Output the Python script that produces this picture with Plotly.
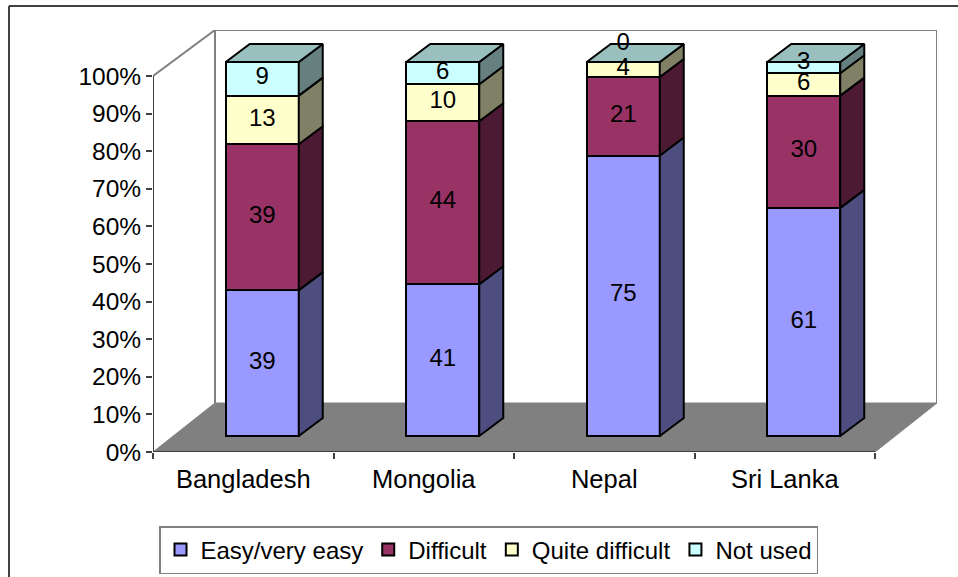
import numpy as np
import plotly.graph_objects as go

countries = ["Bangladesh", "Mongolia", "Nepal", "Sri Lanka"]
series_names = ["Easy/very easy", "Difficult", "Quite difficult", "Not used"]
easy = [39, 41, 75, 61]
difficult = [39, 44, 21, 30]
quite_difficult = [13, 10, 4, 6]
not_used = [9, 6, 0, 3]
percent_ticks = [0, 10, 20, 30, 40, 50, 60, 70, 80, 90, 100]

# styles
front_colors = ["#9999FF", "#993366", "#FFFFCC", "#CCFFFF"]
side_colors = ["#4D4D80", "#4D1A33", "#808066", "#668080"]
top_color = "#99BFBF"
FONT = "Liberation Sans, Arial, sans-serif"
FS = 24

# pixel geometry of the frame
L, R, T, B = 153, 937, 30, 452
cat_px = 180.5
y_px = 3.76
bar_y_px = 3.74
shift_x_px, bar_base_px = 19, 16
floor_dx = 62 / cat_px
floor_dy = 49 / y_px
depth_dx = 24 / cat_px
depth_dy = 18 / bar_y_px
bar_w = 73 / cat_px

x_lo = -0.5
x_hi = x_lo + (R - L) / cat_px
y_hi = (B - T) / y_px
shift = shift_x_px / cat_px

vals = np.array([easy, difficult, quite_difficult, not_used], dtype=float)
norm = vals / vals.sum(axis=0) * 100
tops = norm.cumsum(axis=0)
bots = tops - norm

fig = go.Figure()

# floor and walls
fig.add_trace(go.Scatter(
    x=[x_lo, x_lo + floor_dx, x_hi, 3.5, x_lo], y=[0, floor_dy, floor_dy, 0, 0],
    mode="lines", fill="toself", fillcolor="#808080", line=dict(color="#808080", width=1),
    hoverinfo="skip", showlegend=False))
fig.add_trace(go.Scatter(
    x=[x_lo, x_lo + floor_dx, x_lo + floor_dx, None, x_lo + floor_dx, x_hi, x_hi],
    y=[100, y_hi, floor_dy, None, y_hi, y_hi, floor_dy],
    mode="lines", line=dict(color="#808080", width=2), hoverinfo="skip", showlegend=False,
    cliponaxis=False))
fig.add_trace(go.Scatter(
    x=[x_lo, x_lo, None, x_lo, 3.5], y=[100, 0, None, 0, 0],
    mode="lines", line=dict(color="#404040", width=2), hoverinfo="skip", showlegend=False,
    cliponaxis=False))

# front faces
for i, name in enumerate(series_names):
    fig.add_trace(go.Bar(
        name=name, x=list(range(len(countries))), y=vals[i], xaxis="x2", yaxis="y2",
        width=bar_w, marker=dict(color=front_colors[i], line=dict(color="black", width=2)),
        hoverinfo="skip"))

# side faces and tops, from the same stacked values
for i in range(len(series_names)):
    for j in range(len(countries)):
        xr = j + bar_w / 2
        fig.add_trace(go.Scatter(
            x=[xr, xr + depth_dx, xr + depth_dx, xr, xr],
            y=[bots[i, j], bots[i, j] + depth_dy, tops[i, j] + depth_dy, tops[i, j], bots[i, j]],
            xaxis="x2", yaxis="y2", mode="lines", fill="toself", fillcolor=side_colors[i],
            line=dict(color="black", width=2), hoverinfo="skip", showlegend=False))
for j in range(len(countries)):
    xl, xr = j - bar_w / 2, j + bar_w / 2
    t = tops[-1, j]
    fig.add_trace(go.Scatter(
        x=[xl, xr, xr + depth_dx, xl + depth_dx, xl],
        y=[t, t, t + depth_dy, t + depth_dy, t],
        xaxis="x2", yaxis="y2", mode="lines", fill="toself", fillcolor=top_color,
        line=dict(color="black", width=2), hoverinfo="skip", showlegend=False))

# data labels, centred on each segment; the two crowded labels are lifted as in the source
label_lift = np.full(vals.shape, 0.1)
label_lift[3, 2] = 4.8
label_lift[3, 3] = 1.3
for i in range(len(series_names)):
    fig.add_trace(go.Scatter(
        x=list(range(len(countries))), y=(bots[i] + tops[i]) / 2 + label_lift[i],
        text=[str(int(v)) for v in vals[i]], xaxis="x2", yaxis="y2", mode="text",
        textposition="middle center", textfont=dict(family=FONT, size=FS, color="black"),
        hoverinfo="skip", showlegend=False, cliponaxis=False))

# outer frame
fig.add_shape(type="line", xref="paper", yref="paper", x0=(9 - L) / (R - L), x1=(958 - L) / (R - L),
              y0=(B - 6) / (B - T), y1=(B - 6) / (B - T), line=dict(color="#404040", width=2))
fig.add_shape(type="line", xref="paper", yref="paper", x0=(9 - L) / (R - L), x1=(9 - L) / (R - L),
              y0=(B - 6) / (B - T), y1=(B - 577) / (B - T), line=dict(color="#404040", width=2))

fig.update_layout(
    width=958, height=577, autosize=False,
    margin=dict(l=L, r=958 - R, t=T, b=577 - B, pad=0, autoexpand=False),
    paper_bgcolor="white", plot_bgcolor="white",
    barmode="stack", barnorm="percent",
    font=dict(family=FONT, size=FS, color="black"),
    xaxis=dict(range=[x_lo, x_hi], tickmode="array", tickvals=list(range(len(countries))),
               ticktext=countries, ticks="", showgrid=False, zeroline=False, showline=False,
               ticklabelstandoff=9, tickfont=dict(family=FONT, size=25.5),
               minor=dict(tickmode="array", tickvals=[k - 0.5 for k in range(5)], ticks="outside",
                          ticklen=6, tickwidth=1.5, tickcolor="#404040", showgrid=False)),
    yaxis=dict(range=[0, y_hi], tickmode="array", tickvals=percent_ticks,
               ticktext=[f"{v}%" for v in percent_ticks], ticks="outside", ticklen=6, tickwidth=1.5,
               tickfont=dict(family=FONT, size=24.5),
               tickcolor="#404040", showgrid=False, zeroline=False, showline=False),
    xaxis2=dict(range=[x_lo - shift, x_hi - shift], overlaying="x", visible=False),
    yaxis2=dict(range=[-bar_base_px / bar_y_px, (B - bar_base_px - T) / bar_y_px], overlaying="y", visible=False),
    legend=dict(orientation="h", x=(159 - L) / (R - L), xanchor="left", y=(B - 526) / (B - T) * 1,
                yanchor="top", bordercolor="#808080", borderwidth=1.5, bgcolor="white",
                font=dict(family=FONT, size=FS), traceorder="normal"),
)

fig.write_html("out.html", post_script="document.body.style.margin='0';",
               config={"displayModeBar": False})
